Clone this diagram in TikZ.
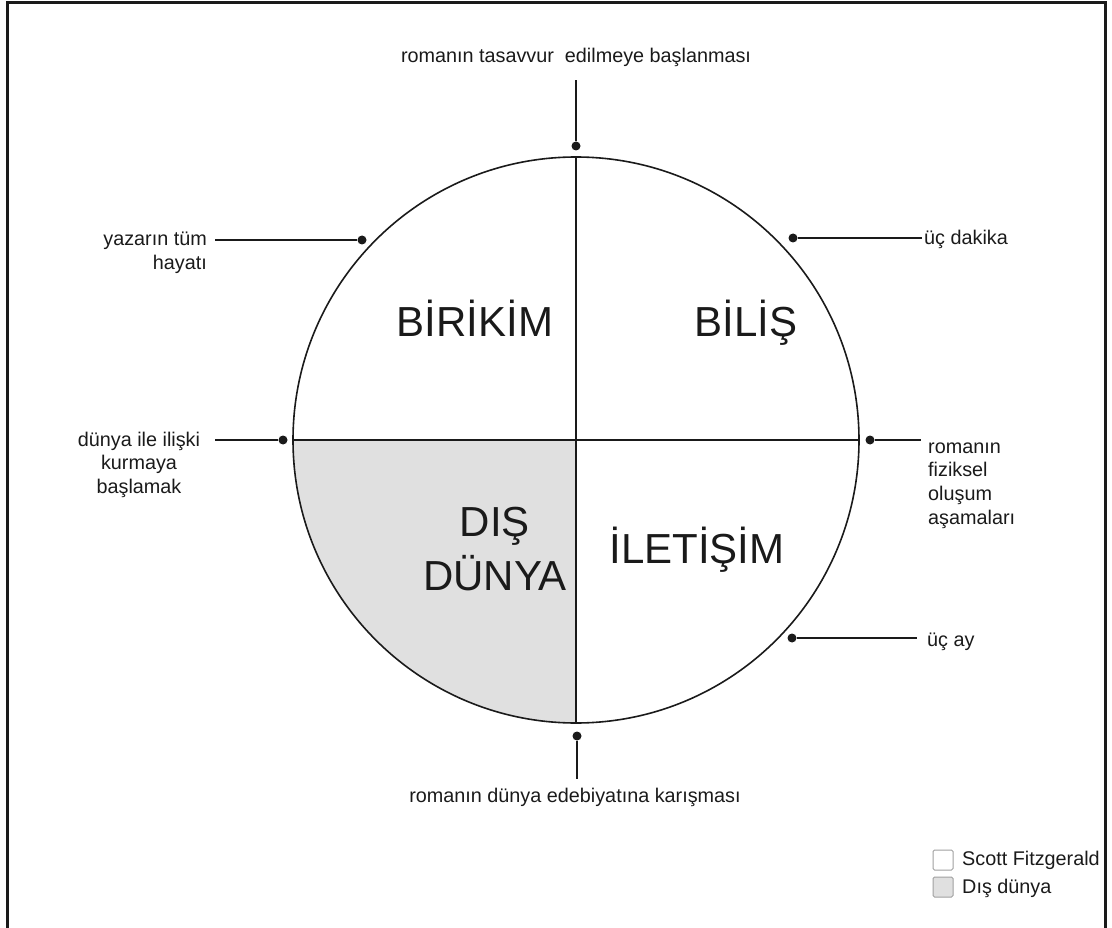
\documentclass[tikz,border=0pt]{standalone}
\usepackage{fontspec}
\setmainfont{Liberation Sans}
\definecolor{ink}{HTML}{1A1A1A}
\definecolor{quarterfill}{HTML}{E0E0E0}
\definecolor{boxedge}{HTML}{A0A0A0}
\tikzset{
  stroke/.style={draw=ink, line width=1.6pt},
  lead/.style={draw=ink, line width=1.9pt},
  pin/.style={circle, fill=ink, inner sep=0pt, minimum size=9pt},
  small/.style={font=\fontsize{19.8}{23.7}\selectfont, text=ink, inner sep=0pt},
  big/.style={font=\fontsize{42}{54}\selectfont, text=ink, inner sep=0pt},
  keybox/.style={draw=boxedge, line width=1pt, rounded corners=1.5pt, minimum size=20pt, inner sep=0pt},
}
\newcommand{\stack}[2]{\begin{tabular}[t]{@{}#1@{}}#2\end{tabular}}
\begin{document}
\begin{tikzpicture}[x=1pt, y=-1pt]
  \useasboundingbox (0,0) rectangle (1112,928);
  % frame
  \draw[ink, line width=3pt] (7,945) -- (7,3) -- (1105,3) -- (1105,945);

  % shaded lower-left quarter
  \fill[quarterfill] (576,440) -- (293,440) arc[start angle=180, end angle=90, radius=283] -- cycle;

  % circle and its two axes
  \node[circle, stroke, minimum size=566pt, inner sep=0pt] (C) at (576,440) {};
  \draw[stroke] (C.north) -- (C.south);
  \draw[stroke] (C.west) -- (C.east);

  % quadrant titles
  \node[big, anchor=base] (birikim) at (475,337) {BİRİKİM};
  \node[big, anchor=base] (bilis) at (746,337) {BİLİŞ};
  \node[big, anchor=base] (dis) at (495,536) {\stack{c}{DIŞ\\DÜNYA}};
  \node[big, anchor=base] (iletisim) at (697,563) {İLETİŞİM};

  % pins around the circle
  \node[pin] (pT)  at (576,146) {};
  \node[pin] (pB)  at (577,736) {};
  \node[pin] (pUL) at (362,240) {};
  \node[pin] (pUR) at (793,238) {};
  \node[pin] (pL)  at (283,440) {};
  \node[pin] (pR)  at (870,440) {};
  \node[pin] (pLR) at (792,638) {};

  % free ends of the leader lines
  \coordinate (eT)  at (576,80);
  \coordinate (eB)  at (577,779);
  \coordinate (eUL) at (215,240);
  \coordinate (eUR) at (922,238);
  \coordinate (eL)  at (215,440);
  \coordinate (eR)  at (921,440);
  \coordinate (eLR) at (917,638);

  \draw[lead] (pT) -- (eT);
  \draw[lead] (pB) -- (eB);
  \draw[lead] (pUL) -- (eUL);
  \draw[lead] (pUR) -- (eUR);
  \draw[lead] (pL) -- (eL);
  \draw[lead] (pR) -- (eR);
  \draw[lead] (pLR) -- (eLR);

  % labels
  \node[small, anchor=base] (lT) at (576,63) {romanın tasavvur\ \ edilmeye başlanması};
  \node[small, anchor=base] (lB) at (575,802) {romanın dünya edebiyatına karışması};
  \node[small, anchor=base east] (lUL) at (207,246) {\stack{r}{yazarın tüm\\hayatı}};
  \node[small, anchor=base west] (lUR) at (924,245) {üç dakika};
  \node[small, anchor=base] (lL) at (139,446) {\stack{c}{dünya ile ilişki\\kurmaya\\başlamak}};
  \node[small, anchor=base west] (lR) at (928,453) {\stack{l}{romanın\\fiziksel\\oluşum\\aşamaları}};
  \node[small, anchor=base west] (lLR) at (927,646) {üç ay};

  % key
  \node[keybox, fill=white] (k1) at (943,860) {};
  \node[keybox, fill=quarterfill] (k2) at (943,887) {};
  \node[small, anchor=base west] (k1t) at (962,865) {Scott Fitzgerald};
  \node[small, anchor=base west] (k2t) at (962,893) {Dış dünya};
\end{tikzpicture}
\end{document}
